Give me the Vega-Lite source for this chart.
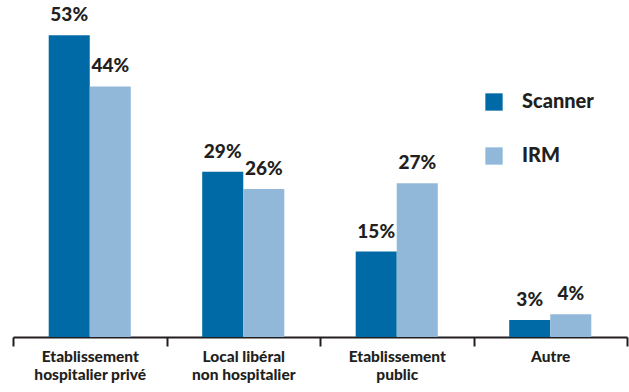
{
  "$schema": "https://vega.github.io/schema/vega-lite/v6.json",
  "width": 614,
  "height": 336,
  "autosize": "none",
  "padding": {"left": 13, "top": 1, "right": 2, "bottom": 55},
  "background": "white",
  "config": {"view": {"stroke": null}, "font": "Lato"},
  "data": {
    "values": [
      {"cat": "Etablissement|hospitalier privé", "type": "Scanner", "value": 53, "label": "53%"},
      {"cat": "Etablissement|hospitalier privé", "type": "IRM", "value": 44, "label": "44%"},
      {"cat": "Local libéral|non hospitalier", "type": "Scanner", "value": 29, "label": "29%"},
      {"cat": "Local libéral|non hospitalier", "type": "IRM", "value": 26, "label": "26%"},
      {"cat": "Etablissement|public", "type": "Scanner", "value": 15, "label": "15%"},
      {"cat": "Etablissement|public", "type": "IRM", "value": 27, "label": "27%"},
      {"cat": "Autre", "type": "Scanner", "value": 3, "label": "3%"},
      {"cat": "Autre", "type": "IRM", "value": 4, "label": "4%"}
    ]
  },
  "encoding": {
    "x": {
      "field": "cat",
      "type": "nominal",
      "sort": null,
      "scale": {"paddingInner": 0, "paddingOuter": 0},
      "axis": {
        "title": null,
        "labelAngle": 0,
        "labelExpr": "split(datum.label, '|')",
        "labelFont": "Lato",
        "labelFontWeight": 900,
        "labelFontSize": 15.5,
        "labelLineHeight": 18,
        "labelColor": "#231f20",
        "labelPadding": 3,
        "tickBand": "extent",
        "tickSize": 9,
        "tickWidth": 2,
        "tickColor": "#231f20",
        "domainWidth": 2,
        "domainColor": "#231f20"
      }
    },
    "xOffset": {
      "field": "type",
      "type": "nominal",
      "sort": ["Scanner", "IRM"],
      "scale": {"paddingInner": 0, "paddingOuter": 0.87}
    },
    "y": {
      "field": "value",
      "type": "quantitative",
      "scale": {"domain": [0, 59]},
      "axis": null
    }
  },
  "layer": [
    {
      "mark": {"type": "bar"},
      "encoding": {
        "color": {
          "field": "type",
          "type": "nominal",
          "sort": ["Scanner", "IRM"],
          "scale": {"domain": ["Scanner", "IRM"], "range": ["#006aa6", "#91b8d9"]},
          "legend": {
            "title": null,
            "orient": "none",
            "legendX": 471,
            "legendY": 91,
            "padding": 0,
            "symbolType": "square",
            "symbolSize": 300,
            "symbolStrokeWidth": 0,
            "labelFont": "Lato",
            "labelFontWeight": 900,
            "labelFontSize": 20,
            "labelColor": "#231f20",
            "labelOffset": 18,
            "rowPadding": 34
          }
        }
      }
    },
    {
      "mark": {
        "type": "text",
        "dy": -10,
        "baseline": "bottom",
        "font": "Lato",
        "fontWeight": 900,
        "fontSize": 19,
        "color": "#231f20"
      },
      "encoding": {
        "text": {"field": "label", "type": "nominal"}
      }
    }
  ]
}
